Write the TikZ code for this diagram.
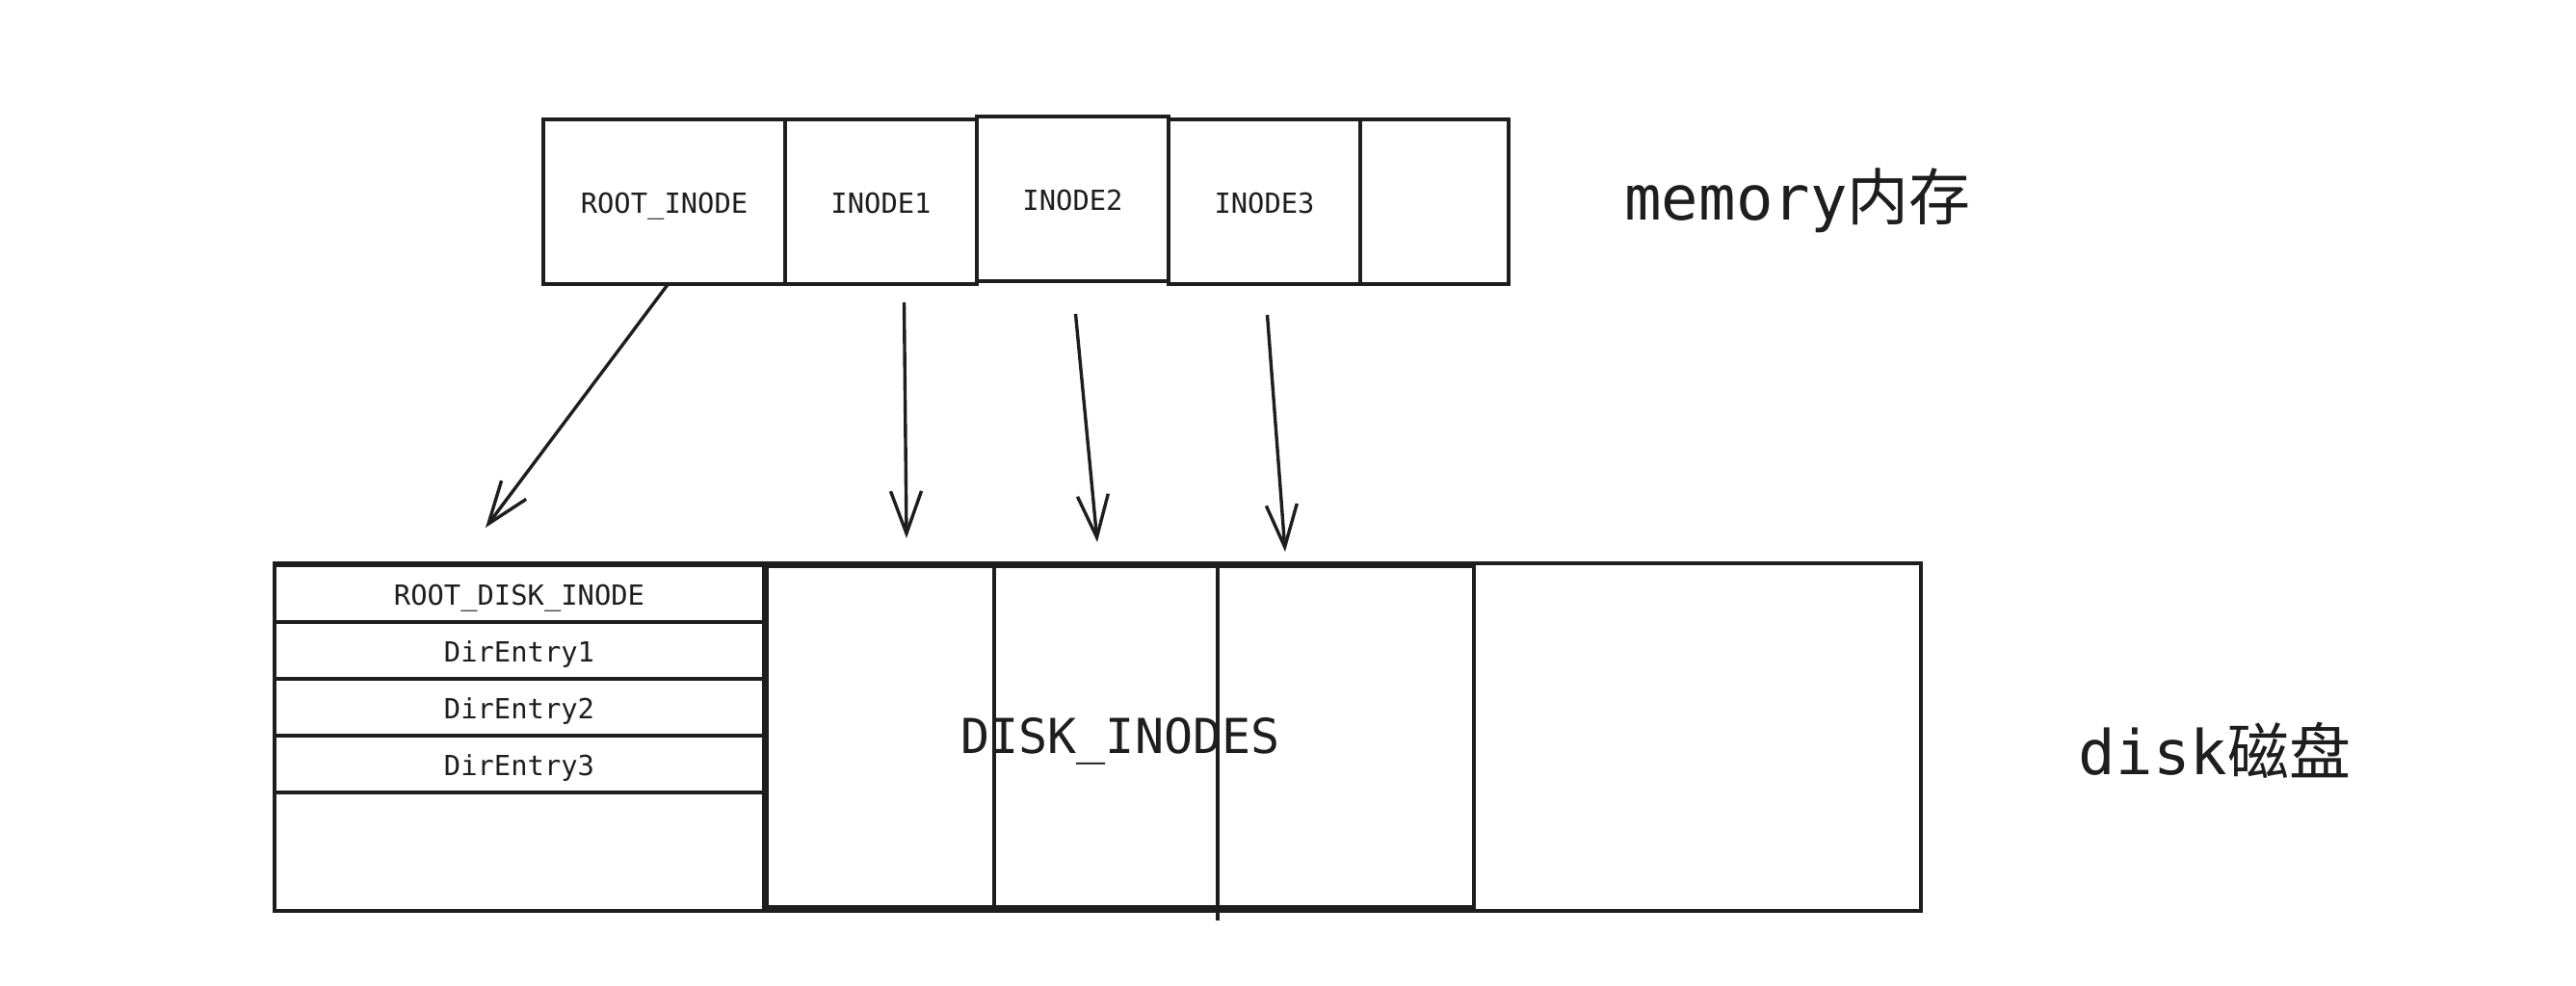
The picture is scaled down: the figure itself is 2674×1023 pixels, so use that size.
\documentclass[tikz,border=0pt]{standalone}
\usepackage{fontspec}
\setmonofont{DejaVu Sans Mono}
\newfontfamily\cjk{Noto Sans CJK SC}
\usetikzlibrary{arrows.meta,positioning}
\definecolor{ink}{HTML}{1E1E1E}
\tikzset{
  cell/.style={rectangle, draw=ink, line width=1.7pt, outer sep=0pt, inner sep=0pt, text=ink, text height=0.73em+5pt, text depth=0pt, font=\ttfamily\fontsize{14.4}{17}\selectfont},
  memcell/.style={cell, minimum height=85.5pt},
  dircell/.style={cell, minimum width=254pt, minimum height=29.5pt},
  biglabel/.style={text=ink, font=\ttfamily\fontsize{32}{38}\selectfont},
  arr/.style={-{Straight Barb[length=22pt,width=16pt]}, line width=1.7pt, draw=ink},
  divider/.style={line width=1.7pt, draw=ink}
}
\begin{document}
\begin{tikzpicture}[x=0.5pt, y=-0.5pt]
\useasboundingbox (0,0) rectangle (2674,1023);
% memory row
\node[memcell, minimum width=125.5pt] (root) at (689.5,209.5) {ROOT\_INODE};
\node[memcell, minimum width=99.5pt, right=0pt of root] (ino1) {INODE1};
\node[memcell, minimum width=99.5pt, right=0pt of ino1, yshift=1.5pt] (ino2) {INODE2};
\node[memcell, minimum width=99.5pt, right=0pt of ino2, yshift=-1.5pt] (ino3) {INODE3};
\node[memcell, minimum width=77pt, right=0pt of ino3] (memfree) {};
\node[biglabel] (memlabel) at (1866,208) {memory{\cjk 内存}};

% disk
\node[cell, minimum width=854.5pt, minimum height=180.5pt] (disk) at (1139.5,765.5) {};
\node[dircell] (rdi) at (539,616.5) {ROOT\_DISK\_INODE};
\node[dircell, below=0pt of rdi] (dent1) {DirEntry1};
\node[dircell, below=0pt of dent1] (dent2) {DirEntry2};
\node[dircell, below=0pt of dent2] (dent3) {DirEntry3};
\node[dircell, minimum height=61.5pt, below=0pt of dent3] (dfree) {};
\node[cell, minimum width=367pt, minimum height=177pt, text height=0.73em+10pt, font=\ttfamily\fontsize{25}{30}\selectfont] (dinodes) at (1163,765) {DISK\_INODES};
\draw[divider] ([xshift=118pt]dinodes.north west) -- ([xshift=118pt,yshift=-2pt]dinodes.south west);
\draw[divider] ([xshift=234pt]dinodes.north west) -- ([xshift=234pt,yshift=-7pt]dinodes.south west);
\node[biglabel] (disklabel) at (2299,779) {disk{\cjk 磁盘}};

% pointers
\coordinate (tip0) at (504,548);
\coordinate (tip1) at (941,559);
\coordinate (tip2) at (1139,563);
\coordinate (tip3) at (1334,573);
\draw[arr] ([xshift=2pt]root.south) -- (tip0);
\draw[arr] ([xshift=12pt,yshift=-9.5pt]ino1.south) -- (tip1);
\draw[arr] ([xshift=1.5pt,yshift=-17pt]ino2.south) -- (tip2);
\draw[arr] ([xshift=1.5pt,yshift=-16pt]ino3.south) -- (tip3);
\end{tikzpicture}
\end{document}
